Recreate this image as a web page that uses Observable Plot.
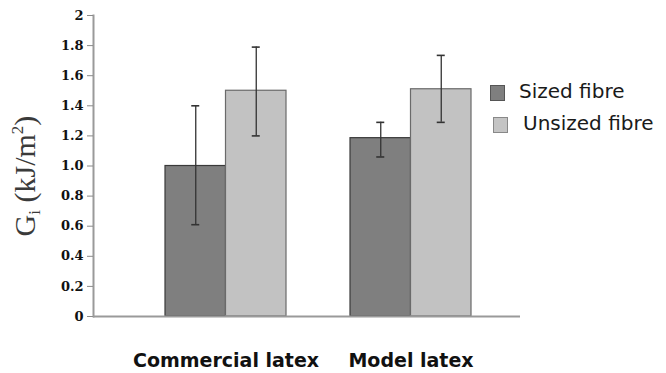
<!DOCTYPE html>
<html>
<head>
<meta charset="utf-8">
<script src="https://cdn.jsdelivr.net/npm/d3@7"></script>
<script src="https://cdn.jsdelivr.net/npm/@observablehq/plot@0.6"></script>
<style>
  html, body { margin: 0; padding: 0; background: #fff; }
  #wrap { position: relative; width: 666px; height: 373px; overflow: hidden; }
  #legend { position: absolute; left: 490px; top: 82px; font-family: "DejaVu Sans", sans-serif; font-size: 20px; color: #1a1a1a; }
  .item { position: relative; height: 32px; white-space: nowrap; }
  .sw { position: absolute; top: 3px; width: 13px; height: 14px; }
  .lab { position: absolute; top: -3px; }
</style>
</head>
<body>
<div id="wrap">
  <div id="chart"></div>
  <div id="legend">
    <div class="item"><span class="sw" style="left:0;background:#7f7f7f;border:1px solid #555"></span><span class="lab" style="left:29px">Sized fibre</span></div>
    <div class="item"><span class="sw" style="left:3px;background:#c4c4c4;border:1px solid #888"></span><span class="lab" style="left:33px">Unsized fibre</span></div>
  </div>
</div>
<script>
// Fracture energy Gi by latex type, sized vs unsized fibre, with error ranges
const categories = ["Commercial latex", "Model latex"];
const sizedMean = [1.00, 1.185];
const sizedLow = [0.61, 1.06];
const sizedHigh = [1.40, 1.29];
const unsizedMean = [1.50, 1.51];
const unsizedLow = [1.20, 1.29];
const unsizedHigh = [1.79, 1.735];
const yTicks = [0, 0.2, 0.4, 0.6, 0.8, 1.0, 1.2, 1.4, 1.6, 1.8, 2];
const yTickLabels = ["0", "0.2", "0.4", "0.6", "0.8", "1.0", "1.2", "1.4", "1.6", "1.8", "2"];

const sized = categories.map((c, i) => ({cat: c, value: sizedMean[i], lo: sizedLow[i], hi: sizedHigh[i]}));
const unsized = categories.map((c, i) => ({cat: c, value: unsizedMean[i], lo: unsizedLow[i], hi: unsizedHigh[i]}));

const xOpts = {type: "band", domain: categories, range: [164.5, 470.5], paddingInner: 0.346, paddingOuter: 0};
const bw = Plot.scale({x: xOpts}).bandwidth;
const cap = 4;

const chart = Plot.plot({
  width: 666,
  height: 373,
  marginLeft: 93,
  marginRight: 146,
  marginTop: 15,
  marginBottom: 57,
  x: xOpts,
  y: {domain: [0, 2]},
  style: {background: "transparent"},
  marks: [
    Plot.barY(sized, {x: "cat", y: "value", fill: "#7f7f7f", stroke: "#3a3a3a", strokeWidth: 1.2, insetRight: bw / 2}),
    Plot.barY(unsized, {x: "cat", y: "value", fill: "#c2c2c2", stroke: "#6a6a6a", strokeWidth: 1.2, insetLeft: bw / 2}),
    Plot.ruleX(sized, {x: "cat", y1: "lo", y2: "hi", dx: -bw / 4, stroke: "#333", strokeWidth: 1.3}),
    Plot.ruleX(unsized, {x: "cat", y1: "lo", y2: "hi", dx: bw / 4, stroke: "#333", strokeWidth: 1.3}),
    Plot.tickY(sized, {x: "cat", y: "hi", insetLeft: bw / 4 - cap, insetRight: 3 * bw / 4 - cap, stroke: "#333", strokeWidth: 1.6}),
    Plot.tickY(sized, {x: "cat", y: "lo", insetLeft: bw / 4 - cap, insetRight: 3 * bw / 4 - cap, stroke: "#333", strokeWidth: 1.6}),
    Plot.tickY(unsized, {x: "cat", y: "hi", insetLeft: 3 * bw / 4 - cap, insetRight: bw / 4 - cap, stroke: "#333", strokeWidth: 1.6}),
    Plot.tickY(unsized, {x: "cat", y: "lo", insetLeft: 3 * bw / 4 - cap, insetRight: bw / 4 - cap, stroke: "#333", strokeWidth: 1.6}),
    Plot.ruleY([0], {stroke: "#9a9a9a", strokeWidth: 2}),
    Plot.frame({anchor: "left", stroke: "#9a9a9a", strokeWidth: 2}),
    Plot.axisY({ticks: yTicks, tickFormat: (d, i) => yTickLabels[yTicks.indexOf(d)], tickSize: 6, tickPadding: 4, stroke: "#8a8a8a", fill: "#111", fontSize: 13, label: null}),
    Plot.axisX({tickSize: 0, tickPadding: 37, fill: "#111", fontSize: 19, label: null})
  ]
});

document.getElementById("chart").appendChild(chart);

const svg = d3.select(chart);
svg.selectAll('[aria-label="y-axis tick label"] text')
  .style("font-family", "'DejaVu Serif', serif")
  .style("font-weight", "bold");
svg.selectAll('[aria-label="x-axis tick label"] text')
  .style("font-family", "'DejaVu Sans', sans-serif")
  .style("font-weight", "bold");

// Rotated y-axis title with subscript and superscript
const title = svg.append("text")
  .attr("transform", "translate(35,176) rotate(-90)")
  .attr("text-anchor", "middle")
  .style("font-family", "'Liberation Serif', serif")
  .style("font-size", "30px")
  .attr("fill", "#3a3a3a");
title.append("tspan").text("G");
title.append("tspan").attr("dy", 5).style("font-size", "17px").text("i");
title.append("tspan").attr("dy", -5).text(" (kJ/m");
title.append("tspan").attr("dy", -12).style("font-size", "17px").text("2");
title.append("tspan").attr("dy", 12).text(")");
</script>
</body>
</html>
